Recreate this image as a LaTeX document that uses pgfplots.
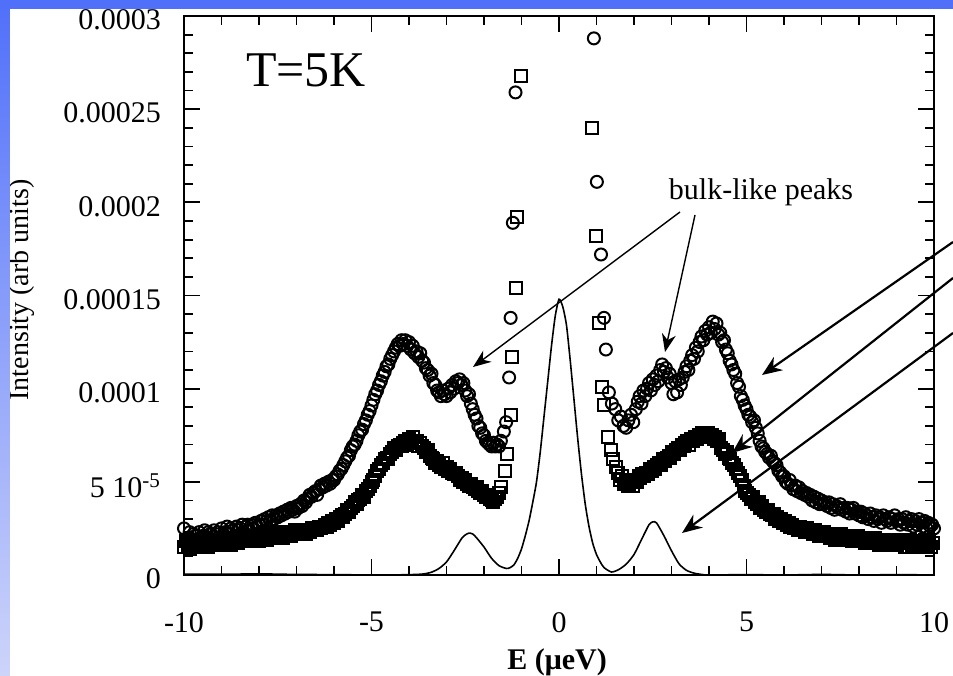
\documentclass[border=0pt]{standalone}
\usepackage{fontspec}
\setmainfont{Liberation Serif}
\usepackage{pgfplots}
\pgfplotsset{compat=1.18}
\usetikzlibrary{arrows.meta}
\definecolor{slideblue}{RGB}{80,112,250}
\definecolor{slidelight}{RGB}{205,212,250}
\begin{document}
\begin{tikzpicture}
\useasboundingbox (-92pt,-50pt) rectangle (384.5pt,287.5pt);
\fill[white] (-92pt,-50pt) rectangle (384.5pt,287.5pt);
\begin{axis}[
  at={(0pt,0pt)}, anchor=south west,
  scale only axis, width=375pt, height=279.5pt,
  xmin=-10, xmax=10, ymin=0, ymax=30,
  xtick={-10,-5,0,5,10}, xticklabels={-10,-5,0,5,10},
  ytick={0,5,10,15,20,25,30},
  yticklabels={0,{5 10\textsuperscript{-5}},0.0001,0.00015,0.0002,0.00025,0.0003},
  minor x tick num=4, minor y tick num=4,
  tick align=inside, xtick pos=both, ytick pos=both,
  major tick length=8pt, minor tick length=4.5pt,
  axis line style={line width=1pt},
  every tick/.style={line width=0.9pt, black},
  ticklabel style={font=\fontsize{15}{18}\selectfont},
  xticklabel style={yshift=-15pt},
  yticklabel style={xshift=-8pt,yshift=-2pt},
  clip=false,
]
% circles
\addplot[only marks, mark=o, mark size=3pt, mark options={line width=1pt, black}] coordinates {
(-10,2.5)(-9.95,1.8)(-9.9,2.0)(-9.85,2.3)(-9.8,1.9)(-9.75,2.2)(-9.7,2.1)(-9.65,1.8)(-9.6,2.3)(-9.55,2.0)(-9.5,2.1)(-9.45,2.4)(-9.4,2.0)(-9.35,2.3)(-9.3,2.2)(-9.25,1.9)(-9.2,2.4)(-9.15,2.2)(-9.1,2.3)(-9.05,2.0)(-9.0,2.5)(-8.95,2.2)(-8.9,2.3)(-8.85,2.6)(-8.8,2.2)(-8.75,2.5)(-8.7,2.4)(-8.65,2.1)(-8.6,2.6)(-8.55,2.4)(-8.5,2.5)(-8.45,2.7)(-8.4,2.3)(-8.35,2.6)(-8.3,2.7)(-8.25,2.4)(-8.2,2.7)(-8.15,2.5)(-8.1,2.8)(-8.05,2.6)(-8.0,2.7)(-7.95,2.9)(-7.9,2.7)(-7.85,3.0)(-7.8,2.9)(-7.75,3.1)(-7.7,2.9)(-7.65,3.2)(-7.6,3.0)(-7.55,3.2)(-7.5,3.1)(-7.45,3.3)(-7.4,3.2)(-7.35,3.4)(-7.3,3.3)(-7.25,3.5)(-7.2,3.4)(-7.15,3.6)(-7.1,3.5)(-7.05,3.4)(-7.0,3.7)(-6.95,3.6)(-6.9,3.8)(-6.85,3.7)(-6.8,4.0)(-6.75,3.9)(-6.7,4.1)(-6.65,4.3)(-6.6,4.2)(-6.55,4.4)(-6.5,4.5)(-6.45,4.3)(-6.4,4.6)(-6.35,4.8)(-6.3,4.7)(-6.25,4.9)(-6.2,4.8)(-6.15,5.0)(-6.1,4.9)(-6.05,5.1)(-6.0,5.1)(-5.95,5.3)(-5.9,5.4)(-5.85,5.6)(-5.8,5.7)(-5.75,5.9)(-5.7,6.1)(-5.65,6.3)(-5.6,6.4)(-5.55,6.7)(-5.5,6.9)(-5.45,7.0)(-5.4,7.2)(-5.35,7.5)(-5.3,7.7)(-5.25,7.8)(-5.2,8.1)(-5.15,8.3)(-5.1,8.6)(-5.05,8.8)(-5.0,9.1)(-4.95,9.4)(-4.9,9.7)(-4.85,9.9)(-4.8,10.2)(-4.75,10.4)(-4.7,10.7)(-4.65,10.9)(-4.6,11.2)(-4.55,11.3)(-4.5,11.6)(-4.45,11.8)(-4.4,12.0)(-4.35,12.2)(-4.3,12.4)(-4.25,12.3)(-4.2,12.6)(-4.15,12.4)(-4.1,12.6)(-4.05,12.3)(-4.0,12.5)(-3.95,12.1)(-3.9,12.3)(-3.85,11.9)(-3.8,12.0)(-3.75,11.7)(-3.7,11.9)(-3.65,11.5)(-3.6,11.4)(-3.55,11.1)(-3.5,11.0)(-3.45,10.7)(-3.4,10.8)(-3.35,10.3)(-3.3,10.2)(-3.25,9.9)(-3.2,9.8)(-3.15,9.6)(-3.1,9.9)(-3.05,9.7)(-3.0,9.6)(-2.95,10.0)(-2.9,9.8)(-2.85,10.2)(-2.8,10.0)(-2.75,10.4)(-2.7,10.3)(-2.65,10.5)(-2.6,10.2)(-2.55,10.3)(-2.5,9.9)(-2.45,9.6)(-2.4,9.7)(-2.35,9.2)(-2.3,8.9)(-2.25,8.6)(-2.2,8.4)(-2.15,8.0)(-2.1,7.9)(-2.05,7.6)(-2.0,7.5)(-1.95,7.2)(-1.9,7.1)(-1.85,7.0)(-1.8,6.9)(-1.75,7.1)(-1.7,6.9)(-1.65,7.0)(-1.6,6.9)(-1.55,7.2)(-1.47,7.7)(-1.41,8.2)(-1.33,10.6)(-1.29,13.8)(-1.23,18.9)(-1.16,25.9)
(0.93,28.8)(1.01,21.1)(1.12,17.2)(1.2,13.8)(1.25,12.1)(1.33,9.8)(1.41,9.2)(1.5,8.9)(1.58,8.3)(1.65,8.5)(1.72,8.0)(1.79,7.9)(1.85,8.3)(1.92,8.6)(1.98,8.2)(2.05,8.9)(2.1,9.3)(2.15,9.6)(2.2,9.2)(2.25,9.9)(2.3,9.6)(2.35,10.0)(2.4,10.3)(2.45,9.9)(2.5,10.5)(2.55,10.2)(2.6,10.7)(2.65,10.4)(2.7,11.0)(2.75,11.3)(2.8,10.9)(2.85,11.1)(2.9,10.6)(2.95,10.8)(3.0,10.3)(3.05,9.7)(3.1,10.4)(3.15,9.8)(3.2,10.5)(3.25,10.2)(3.3,10.6)(3.35,10.9)(3.4,11.2)(3.45,11.0)(3.5,11.5)(3.55,11.8)(3.6,11.6)(3.65,12.2)(3.7,12.0)(3.75,12.5)(3.8,12.8)(3.85,12.6)(3.9,13.1)(3.95,12.9)(4.0,13.3)(4.05,13.0)(4.1,13.6)(4.15,13.2)(4.2,13.5)(4.25,12.9)(4.3,13.0)(4.35,12.5)(4.4,12.6)(4.45,12.1)(4.5,11.9)(4.55,11.5)(4.6,11.3)(4.65,11.0)(4.7,10.8)(4.75,10.3)(4.8,10.1)(4.85,9.6)(4.9,9.4)(4.95,9.1)(5.0,8.9)(5.05,8.6)(5.1,8.5)(5.15,8.2)(5.2,8.3)(5.25,7.9)(5.3,7.6)(5.35,7.2)(5.4,6.9)(5.45,6.8)(5.5,6.6)(5.55,6.5)(5.6,6.3)(5.65,6.4)(5.7,6.1)(5.75,6.0)(5.8,5.9)(5.85,5.6)(5.9,5.5)(5.95,5.3)(6.0,5.3)(6.05,5.0)(6.1,4.9)(6.15,5.1)(6.2,4.8)(6.25,4.6)(6.3,4.8)(6.35,4.5)(6.4,4.7)(6.45,4.4)(6.5,4.5)(6.55,4.3)(6.6,4.4)(6.65,4.2)(6.7,4.3)(6.75,4.0)(6.8,4.2)(6.85,3.9)(6.9,4.1)(6.95,3.8)(7.0,4.0)(7.05,3.8)(7.1,3.9)(7.15,3.7)(7.2,3.9)(7.25,3.6)(7.3,3.8)(7.35,3.5)(7.4,3.7)(7.45,3.6)(7.5,3.8)(7.55,3.5)(7.6,3.6)(7.65,3.4)(7.7,3.6)(7.75,3.3)(7.8,3.5)(7.85,3.6)(7.9,3.3)(7.95,3.4)(8.0,3.2)(8.05,3.4)(8.1,3.1)(8.15,3.3)(8.2,3.2)(8.25,3.0)(8.3,3.3)(8.35,3.1)(8.4,2.9)(8.45,3.2)(8.5,3.0)(8.55,3.1)(8.6,2.8)(8.65,3.2)(8.7,3.0)(8.75,2.9)(8.8,3.1)(8.85,2.8)(8.9,3.0)(8.95,3.2)(9.0,2.9)(9.05,3.0)(9.1,2.7)(9.15,3.0)(9.2,2.8)(9.25,3.1)(9.3,2.7)(9.35,2.9)(9.4,3.0)(9.45,2.6)(9.5,2.9)(9.55,2.7)(9.6,3.0)(9.65,2.8)(9.7,2.6)(9.75,2.9)(9.8,2.5)(9.85,2.8)(9.9,2.6)(9.95,2.7)(10.0,2.5)
};
% squares
\addplot[only marks, mark=square, mark size=3pt, mark options={line width=1pt, black}] coordinates {
(-10,1.5)(-9.95,1.8)(-9.9,1.6)(-9.85,1.4)(-9.8,1.7)(-9.75,1.5)(-9.7,1.8)(-9.65,1.6)(-9.6,1.5)(-9.55,1.8)(-9.5,1.6)(-9.45,1.9)(-9.4,1.7)(-9.35,1.5)(-9.3,1.8)(-9.25,1.6)(-9.2,1.9)(-9.15,1.7)(-9.1,1.6)(-9.05,1.9)(-9.0,1.7)(-8.95,1.8)(-8.9,2.0)(-8.85,1.7)(-8.8,1.9)(-8.75,1.6)(-8.7,2.0)(-8.65,1.8)(-8.6,1.9)(-8.55,1.7)(-8.5,2.0)(-8.45,1.8)(-8.4,1.9)(-8.35,2.1)(-8.3,1.8)(-8.25,2.0)(-8.2,1.9)(-8.15,2.1)(-8.1,1.9)(-8.05,2.0)(-8.0,1.8)(-7.95,2.1)(-7.9,2.0)(-7.85,2.2)(-7.8,1.9)(-7.75,2.1)(-7.7,2.0)(-7.65,2.2)(-7.6,2.0)(-7.55,2.1)(-7.5,2.3)(-7.45,2.0)(-7.4,2.2)(-7.35,2.0)(-7.3,2.2)(-7.25,2.1)(-7.2,2.3)(-7.15,2.1)(-7.1,2.2)(-7.05,2.4)(-7.0,2.2)(-6.95,2.3)(-6.9,2.2)(-6.85,2.4)(-6.8,2.3)(-6.75,2.2)(-6.7,2.4)(-6.65,2.3)(-6.6,2.5)(-6.55,2.4)(-6.5,2.5)(-6.45,2.4)(-6.4,2.6)(-6.35,2.5)(-6.3,2.6)(-6.25,2.7)(-6.2,2.6)(-6.15,2.8)(-6.1,2.7)(-6.05,2.9)(-6.0,2.8)(-5.95,3.0)(-5.9,2.9)(-5.85,3.1)(-5.8,3.2)(-5.75,3.1)(-5.7,3.3)(-5.65,3.5)(-5.6,3.4)(-5.55,3.6)(-5.5,3.7)(-5.45,3.9)(-5.4,3.8)(-5.35,4.0)(-5.3,4.1)(-5.25,4.3)(-5.2,4.2)(-5.15,4.5)(-5.1,4.6)(-5.05,4.8)(-5.0,5.0)(-4.95,5.1)(-4.9,5.3)(-4.85,5.6)(-4.8,5.7)(-4.75,5.9)(-4.7,6.0)(-4.65,6.2)(-4.6,6.3)(-4.55,6.2)(-4.5,6.5)(-4.45,6.6)(-4.4,6.8)(-4.35,6.7)(-4.3,6.9)(-4.25,7.0)(-4.2,6.9)(-4.15,7.1)(-4.1,7.2)(-4.05,7.0)(-4.0,7.3)(-3.95,7.2)(-3.9,7.4)(-3.85,7.1)(-3.8,7.2)(-3.75,6.9)(-3.7,7.1)(-3.65,6.9)(-3.6,6.8)(-3.55,6.6)(-3.5,6.7)(-3.45,6.4)(-3.4,6.3)(-3.35,6.2)(-3.3,6.0)(-3.25,6.1)(-3.2,5.9)(-3.15,5.8)(-3.1,6.0)(-3.05,5.7)(-3.0,5.8)(-2.95,5.6)(-2.9,5.7)(-2.85,5.5)(-2.8,5.4)(-2.75,5.5)(-2.7,5.3)(-2.65,5.1)(-2.6,5.2)(-2.55,5.0)(-2.5,5.1)(-2.45,4.9)(-2.4,4.8)(-2.35,4.9)(-2.3,4.7)(-2.25,4.6)(-2.2,4.7)(-2.15,4.5)(-2.1,4.4)(-2.05,4.5)(-2.0,4.3)(-1.95,4.2)(-1.9,4.3)(-1.85,4.1)(-1.8,4.0)(-1.75,3.9)(-1.7,4.1)(-1.65,4.2)(-1.6,4.4)(-1.55,4.7)(-1.44,5.6)(-1.39,6.5)(-1.28,8.6)(-1.25,11.7)(-1.15,15.4)(-1.12,19.2)(-1.01,26.8)
(0.88,24.0)(0.99,18.2)(1.07,13.5)(1.15,10.1)(1.2,9.1)(1.31,7.4)(1.38,6.7)(1.45,6.2)(1.52,5.8)(1.57,5.5)(1.62,5.1)(1.68,5.3)(1.73,4.9)(1.78,5.0)(1.83,4.8)(1.87,4.9)(1.92,5.1)(1.97,4.8)(2.02,5.1)(2.07,5.0)(2.12,5.3)(2.17,5.2)(2.22,5.4)(2.27,5.3)(2.32,5.5)(2.37,5.4)(2.42,5.7)(2.47,5.6)(2.52,5.8)(2.57,5.7)(2.62,5.9)(2.67,6.0)(2.72,5.9)(2.77,6.2)(2.82,6.1)(2.87,6.3)(2.92,6.4)(2.97,6.3)(3.02,6.6)(3.07,6.5)(3.12,6.7)(3.17,6.8)(3.22,6.7)(3.27,7.0)(3.32,6.9)(3.37,7.1)(3.42,7.2)(3.47,7.0)(3.52,7.3)(3.57,7.2)(3.62,7.4)(3.67,7.3)(3.72,7.5)(3.77,7.4)(3.82,7.6)(3.87,7.4)(3.92,7.5)(3.97,7.6)(4.02,7.4)(4.07,7.5)(4.12,7.3)(4.17,7.4)(4.22,7.2)(4.27,7.3)(4.32,6.8)(4.37,6.7)(4.42,6.5)(4.47,6.6)(4.52,6.3)(4.57,6.2)(4.62,6.0)(4.67,5.9)(4.72,5.7)(4.77,5.5)(4.82,5.3)(4.87,5.1)(4.92,4.8)(4.97,4.5)(5.02,4.4)(5.07,4.3)(5.12,4.1)(5.17,4.2)(5.22,3.9)(5.27,3.8)(5.32,3.9)(5.37,3.6)(5.42,3.7)(5.47,3.5)(5.52,3.4)(5.57,3.5)(5.62,3.3)(5.67,3.2)(5.72,3.3)(5.77,3.0)(5.82,3.1)(5.87,2.9)(5.92,3.0)(5.97,2.8)(6.02,2.9)(6.07,2.7)(6.12,2.8)(6.17,2.6)(6.22,2.7)(6.27,2.5)(6.32,2.6)(6.37,2.4)(6.42,2.6)(6.47,2.4)(6.52,2.5)(6.57,2.3)(6.62,2.5)(6.67,2.3)(6.72,2.4)(6.77,2.2)(6.82,2.4)(6.87,2.3)(6.92,2.1)(6.97,2.3)(7.02,2.2)(7.07,2.3)(7.12,2.1)(7.17,2.2)(7.22,2.0)(7.27,2.2)(7.32,2.1)(7.37,1.9)(7.42,2.1)(7.47,2.0)(7.52,2.2)(7.57,1.9)(7.62,2.1)(7.67,2.0)(7.72,1.9)(7.77,2.1)(7.82,1.8)(7.87,2.0)(7.92,1.9)(7.97,2.1)(8.02,1.8)(8.07,2.0)(8.12,1.9)(8.17,1.7)(8.22,2.0)(8.27,1.8)(8.32,1.9)(8.37,1.7)(8.42,2.0)(8.47,1.8)(8.52,1.6)(8.57,1.9)(8.62,1.8)(8.67,1.7)(8.72,1.9)(8.77,1.6)(8.82,1.8)(8.87,1.9)(8.92,1.7)(8.97,1.8)(9.02,1.6)(9.07,1.9)(9.12,1.7)(9.17,1.8)(9.22,1.5)(9.27,1.8)(9.32,1.7)(9.37,1.9)(9.42,1.6)(9.47,1.8)(9.52,1.7)(9.57,1.5)(9.62,1.8)(9.67,1.6)(9.72,1.7)(9.77,1.9)(9.82,1.6)(9.87,1.8)(9.92,1.5)(9.97,1.7)
};
% resolution line
\addplot[black, line width=0.8pt, smooth, tension=0.4] coordinates {
(-10,0.05)(-9,0.04)(-8,0.06)(-7,0.03)(-6,0.02)(-5,0.0)(-4.5,0.0)(-4,0.02)(-3.8,0.03)(-3.6,0.06)(-3.4,0.15)(-3.2,0.35)(-3.0,0.7)(-2.8,1.3)(-2.6,1.95)(-2.5,2.15)(-2.4,2.25)(-2.3,2.2)(-2.2,2.0)(-2.0,1.5)(-1.8,0.9)(-1.6,0.5)(-1.4,0.35)(-1.3,0.4)(-1.2,0.55)(-1.1,0.9)(-1.0,1.4)(-0.9,2.1)(-0.8,2.9)(-0.7,3.9)(-0.6,5.0)(-0.5,6.6)(-0.4,8.5)(-0.3,10.4)(-0.2,12.3)(-0.1,13.9)(0,14.8)(0.1,14.4)(0.2,13.4)(0.3,11.5)(0.4,9.4)(0.5,7.3)(0.6,5.4)(0.7,3.8)(0.8,2.6)(0.9,1.7)(1.0,1.1)(1.1,0.7)(1.2,0.4)(1.4,0.16)(1.6,0.3)(1.8,0.6)(2.0,1.1)(2.2,1.9)(2.4,2.7)(2.5,2.85)(2.6,2.8)(2.8,2.1)(3.0,1.3)(3.2,0.6)(3.4,0.25)(3.6,0.1)(3.8,0.03)(4,0.0)(5,0.02)(6,0.0)(7,0.03)(8,0.0)(9,0.02)(10,0.0)
};
\end{axis}
% labels
\node[rotate=90, font=\fontsize{14}{17}\selectfont] at (-81pt,142.5pt) {Intensity (arb units)};
\node[font=\bfseries\fontsize{15}{18}\selectfont] at (186.5pt,-43.5pt) {E (μeV)};
\node[font=\fontsize{25}{30}\selectfont] at (61pt,252.5pt) {T=5K};
\node[font=\fontsize{15}{18}\selectfont, anchor=base] at (288.5pt,187.5pt) {bulk-like peaks};
% arrows
\draw[line width=0.7pt, -{Stealth[length=9pt,width=7pt]}] (248pt,181.5pt) -- (144.5pt,104pt);
\draw[line width=0.7pt, -{Stealth[length=9pt,width=7pt]}] (255.5pt,180pt) -- (240.5pt,111.5pt);
\draw[line width=1.1pt, -{Stealth[length=10pt,width=8pt]}] (384.5pt,166.5pt) -- (289pt,100pt);
\draw[line width=1.1pt, -{Stealth[length=10pt,width=8pt]}] (384.5pt,148.5pt) -- (274pt,61pt);
\draw[line width=1.1pt, -{Stealth[length=10pt,width=8pt]}] (384.5pt,121pt) -- (249pt,21pt);
% slide frame
\shade[top color=slideblue,bottom color=slidelight] (-92pt,-50pt) rectangle (-87pt,287.5pt);
\fill[slideblue] (-92pt,282.75pt) rectangle (384.5pt,287.5pt);
\end{tikzpicture}
\end{document}
